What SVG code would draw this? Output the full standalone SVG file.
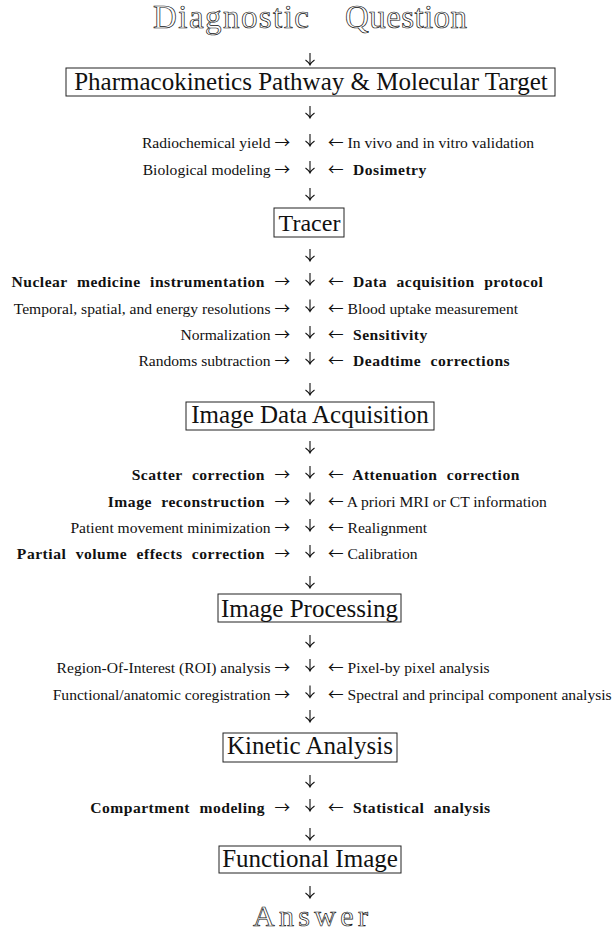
<svg xmlns="http://www.w3.org/2000/svg" xmlns:xlink="http://www.w3.org/1999/xlink" width="614" height="933" viewBox="0 0 614 933">
<style>
.t{font-family:"Liberation Serif","Times New Roman",serif;font-size:15.6px;fill:#111}
.b{font-weight:bold;letter-spacing:0.5px;word-spacing:5px}
.ar{font-family:"Noto Sans CJK JP","Liberation Serif",sans-serif;font-weight:normal;letter-spacing:0;word-spacing:0}
.e{text-anchor:end}
.box{fill:#fff;stroke:#222;stroke-width:1}
.bt{font-family:"Liberation Serif","Times New Roman",serif;font-size:25px;fill:#111;text-anchor:middle}
.hol{font-family:"Liberation Serif","Times New Roman",serif;font-size:33px;fill:#fff;stroke:#111;stroke-width:0.7}
.conn use{fill:none;stroke:#111;stroke-width:1.1}
</style>
<defs>
<path id="dn" d="M0,-12 V0 M-4.5,-5 Q-1.5,-3 0,0 Q1.5,-3 4.5,-5"/>
</defs>
<rect width="614" height="933" fill="#fff"/>

<g id="connectors" class="conn">
<use xlink:href="#dn" x="310" y="65"/>
<use xlink:href="#dn" x="310" y="118"/>
<use xlink:href="#dn" x="310" y="146"/>
<use xlink:href="#dn" x="310" y="173"/>
<use xlink:href="#dn" x="310" y="200"/>
<use xlink:href="#dn" x="310" y="261"/>
<use xlink:href="#dn" x="310" y="285"/>
<use xlink:href="#dn" x="310" y="311.5"/>
<use xlink:href="#dn" x="310" y="338"/>
<use xlink:href="#dn" x="310" y="364"/>
<use xlink:href="#dn" x="310" y="395"/>
<use xlink:href="#dn" x="310" y="453"/>
<use xlink:href="#dn" x="310" y="478"/>
<use xlink:href="#dn" x="310" y="504.5"/>
<use xlink:href="#dn" x="310" y="531"/>
<use xlink:href="#dn" x="310" y="557"/>
<use xlink:href="#dn" x="310" y="588"/>
<use xlink:href="#dn" x="310" y="647"/>
<use xlink:href="#dn" x="310" y="671"/>
<use xlink:href="#dn" x="310" y="697.5"/>
<use xlink:href="#dn" x="310" y="722"/>
<use xlink:href="#dn" x="310" y="787"/>
<use xlink:href="#dn" x="310" y="811"/>
<use xlink:href="#dn" x="310" y="840"/>
<use xlink:href="#dn" x="310" y="898"/>
</g>

<g id="question">
<text class="hol" x="153" y="28" textLength="156" lengthAdjust="spacing">Diagnostic</text>
<text class="hol" x="345" y="28" textLength="122" lengthAdjust="spacing">Question</text>
</g>

<g id="pharmacokinetics">
<rect class="box" x="66" y="68" width="489" height="28"/>
<text class="bt" x="311" y="90">Pharmacokinetics Pathway &amp; Molecular Target</text>
</g>

<g id="row-radiochemical">
<text class="t e" x="290" y="148">Radiochemical yield <tspan class="ar">→</tspan></text>
<text class="t" x="328" y="148"><tspan class="ar">←</tspan> In vivo and in vitro validation</text>
</g>
<g id="row-biological">
<text class="t e" x="290" y="175">Biological modeling <tspan class="ar">→</tspan></text>
<text class="t b" x="328" y="175"><tspan class="ar">←</tspan> Dosimetry</text>
</g>

<g id="tracer">
<rect class="box" x="274" y="208" width="70" height="29"/>
<text class="bt" x="309.5" y="231" style="font-size:24px">Tracer</text>
</g>

<g id="row-nuclear">
<text class="t b e" x="290" y="287">Nuclear medicine instrumentation <tspan class="ar">→</tspan></text>
<text class="t b" x="328" y="287"><tspan class="ar">←</tspan> Data acquisition protocol</text>
</g>
<g id="row-temporal">
<text class="t e" x="290" y="313.5">Temporal, spatial, and energy resolutions <tspan class="ar">→</tspan></text>
<text class="t" x="328" y="313.5"><tspan class="ar">←</tspan> Blood uptake measurement</text>
</g>
<g id="row-normalization">
<text class="t e" x="290" y="340">Normalization <tspan class="ar">→</tspan></text>
<text class="t b" x="328" y="340"><tspan class="ar">←</tspan> Sensitivity</text>
</g>
<g id="row-randoms">
<text class="t e" x="290" y="366">Randoms subtraction <tspan class="ar">→</tspan></text>
<text class="t b" x="328" y="366"><tspan class="ar">←</tspan> Deadtime corrections</text>
</g>

<g id="image-data-acquisition">
<rect class="box" x="186" y="402" width="248" height="28"/>
<text class="bt" x="310" y="423">Image Data Acquisition</text>
</g>

<g id="row-scatter">
<text class="t b e" x="290" y="480">Scatter correction <tspan class="ar">→</tspan></text>
<text class="t b" x="328" y="480"><tspan class="ar">←</tspan> Attenuation correction</text>
</g>
<g id="row-reconstruction">
<text class="t b e" x="290" y="506.5">Image reconstruction <tspan class="ar">→</tspan></text>
<text class="t" x="328" y="506.5"><tspan class="ar">←</tspan> A priori MRI or CT information</text>
</g>
<g id="row-movement">
<text class="t e" x="290" y="533">Patient movement minimization <tspan class="ar">→</tspan></text>
<text class="t" x="328" y="533"><tspan class="ar">←</tspan> Realignment</text>
</g>
<g id="row-partial">
<text class="t b e" x="290" y="559">Partial volume effects correction <tspan class="ar">→</tspan></text>
<text class="t" x="328" y="559"><tspan class="ar">←</tspan> Calibration</text>
</g>

<g id="image-processing">
<rect class="box" x="218" y="594" width="183" height="28"/>
<text class="bt" x="309.5" y="617">Image Processing</text>
</g>

<g id="row-roi">
<text class="t e" x="290" y="673">Region-Of-Interest (ROI) analysis <tspan class="ar">→</tspan></text>
<text class="t" x="328" y="673"><tspan class="ar">←</tspan> Pixel-by pixel analysis</text>
</g>
<g id="row-coregistration">
<text class="t e" x="290" y="699.5">Functional/anatomic coregistration <tspan class="ar">→</tspan></text>
<text class="t" x="328" y="699.5"><tspan class="ar">←</tspan> Spectral and principal component analysis</text>
</g>

<g id="kinetic-analysis">
<rect class="box" x="223" y="733" width="174" height="29"/>
<text class="bt" x="310" y="754">Kinetic Analysis</text>
</g>

<g id="row-compartment">
<text class="t b e" x="290" y="813">Compartment modeling <tspan class="ar">→</tspan></text>
<text class="t b" x="328" y="813"><tspan class="ar">←</tspan> Statistical analysis</text>
</g>

<g id="functional-image">
<rect class="box" x="219" y="846" width="182" height="27"/>
<text class="bt" x="310" y="867">Functional Image</text>
</g>

<g id="answer">
<text class="hol" x="253" y="926" textLength="115" lengthAdjust="spacing" style="font-size:30px">Answer</text>
</g>
</svg>
